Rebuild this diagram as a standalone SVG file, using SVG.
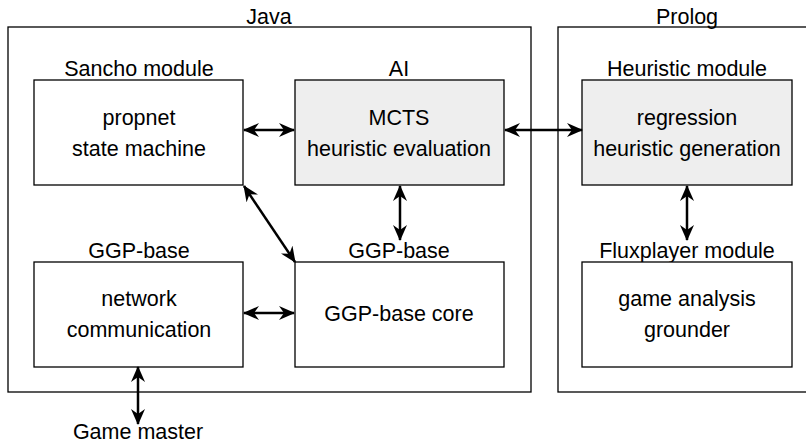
<svg xmlns="http://www.w3.org/2000/svg" width="806" height="443" viewBox="0 0 806 443">
<style>
text{font-family:"Liberation Sans",Arial,sans-serif;font-size:21.5px;fill:#000;text-anchor:middle}
.outer{fill:#fff;stroke:#000;stroke-width:1.3}
.box{fill:#fff;stroke:#000;stroke-width:1.3}
.grey{fill:#eeeeee}
.conn{stroke:#000;stroke-width:2.5;fill:none;marker-start:url(#ah);marker-end:url(#ah)}
</style>
<defs>
<marker id="ah" markerUnits="userSpaceOnUse" markerWidth="16" markerHeight="14" refX="15" refY="7" orient="auto-start-reverse" viewBox="0 0 16 14">
<path d="M0,0 L16,7 L0,14 L5,7 Z" fill="#000"/>
</marker>
</defs>
<rect width="806" height="443" fill="#fff"/>
<g id="java">
<rect class="outer" x="8" y="27" width="523" height="365"/>
<text x="269" y="24">Java</text>
</g>
<g id="prolog">
<rect class="outer" x="558" y="27" width="260" height="365"/>
<text x="687" y="24">Prolog</text>
</g>
<g id="sancho">
<text x="139" y="76">Sancho module</text>
<rect class="box" x="34" y="80" width="209" height="105"/>
<text x="139" y="125">propnet</text>
<text x="139" y="156">state machine</text>
</g>
<g id="ai">
<text x="399" y="76">AI</text>
<rect class="box grey" x="295" y="80" width="209" height="105"/>
<text x="399" y="125">MCTS</text>
<text x="399" y="156">heuristic evaluation</text>
</g>
<g id="heuristic">
<text x="687" y="76">Heuristic module</text>
<rect class="box grey" x="582" y="80" width="210" height="105"/>
<text x="687" y="125">regression</text>
<text x="687" y="156">heuristic generation</text>
</g>
<g id="ggpbase-net">
<text x="139" y="258">GGP-base</text>
<rect class="box" x="34" y="262" width="209" height="105"/>
<text x="139" y="306">network</text>
<text x="139" y="337">communication</text>
</g>
<g id="ggpbase-core">
<text x="399" y="258">GGP-base</text>
<rect class="box" x="295" y="262" width="209" height="105"/>
<text x="399" y="321">GGP-base core</text>
</g>
<g id="fluxplayer">
<text x="687" y="258">Fluxplayer module</text>
<rect class="box" x="582" y="262" width="210" height="105"/>
<text x="687" y="306">game analysis</text>
<text x="687" y="337">grounder</text>
</g>
<g id="gamemaster">
<text x="138" y="439">Game master</text>
</g>
<g id="connectors">
<line class="conn" x1="244" y1="130" x2="294" y2="130"/>
<line class="conn" x1="505" y1="130" x2="582" y2="130"/>
<line class="conn" x1="400" y1="186" x2="400" y2="240"/>
<line class="conn" x1="687" y1="186" x2="687" y2="240"/>
<line class="conn" x1="244" y1="186" x2="295" y2="262"/>
<line class="conn" x1="244" y1="313" x2="294" y2="313"/>
<line class="conn" x1="138" y1="367" x2="138" y2="424"/>
</g>
</svg>
